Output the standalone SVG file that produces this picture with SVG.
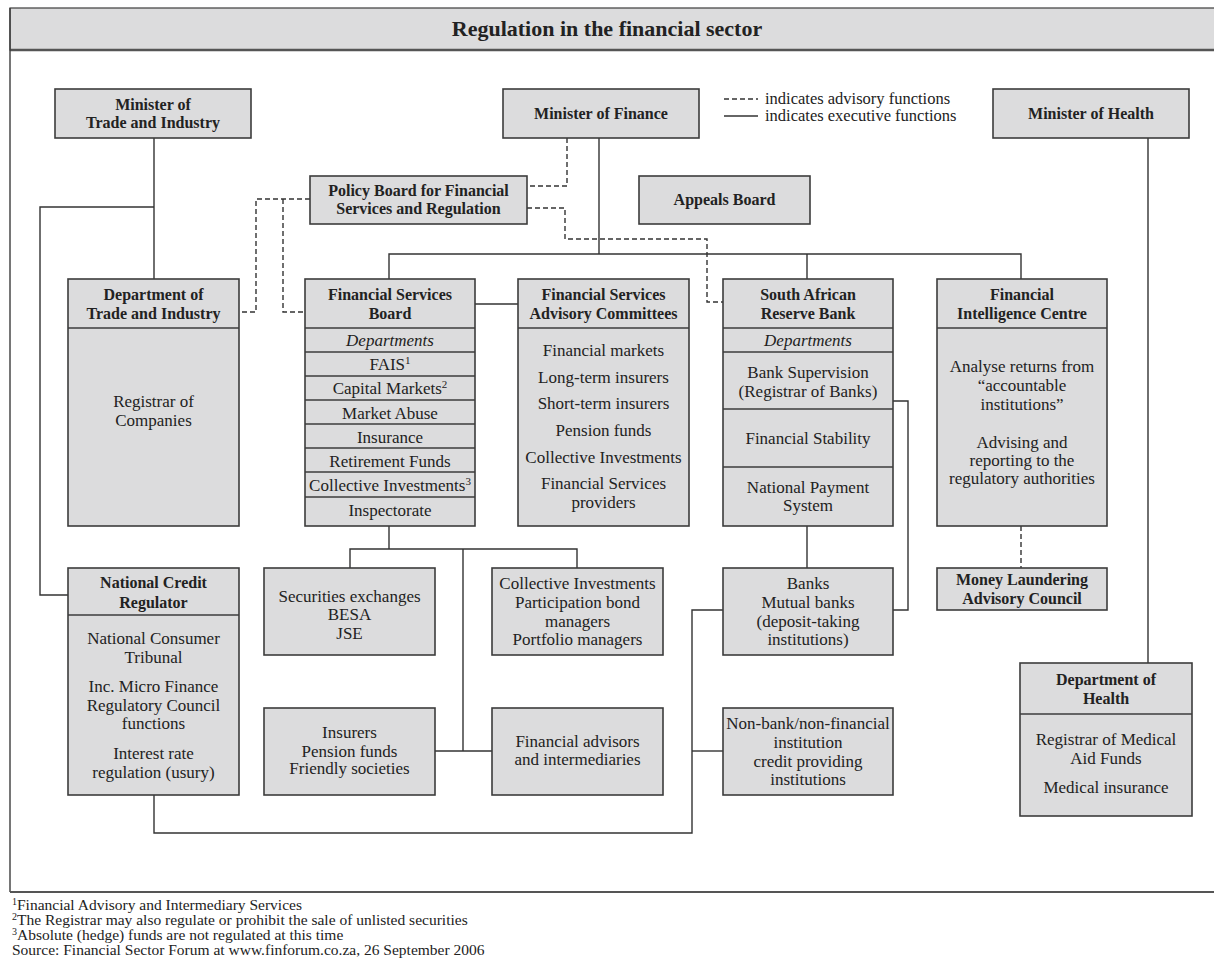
<svg xmlns="http://www.w3.org/2000/svg" width="1214" height="958" viewBox="0 0 1214 958">
<style>
.box{fill:#dcdcdd;stroke:#3c3c3c;stroke-width:1.6}
.sep{fill:none;stroke:#3c3c3c;stroke-width:1.4}
.c{fill:none;stroke:#333;stroke-width:1.4}
.d{fill:none;stroke:#333;stroke-width:1.4;stroke-dasharray:5,3}
text{font-family:"Liberation Serif","Times New Roman",serif;fill:#222}
.h{font-size:16px;font-weight:bold;text-anchor:middle}
.t{font-size:17px;text-anchor:middle}
.i{font-size:17px;font-style:italic;text-anchor:middle}
.l{font-size:16.5px}
.f{font-size:15.5px}
.title{font-size:22px;font-weight:bold;text-anchor:middle}
</style>
<rect width="1214" height="958" fill="#fff"/>
<g id="frame">
<rect x="10" y="8" width="1210" height="42" fill="#dcdcdd" stroke="#3c3c3c" stroke-width="1.2"/>
<line x1="10" y1="50" x2="1214" y2="50" stroke="#555" stroke-width="2.5"/>
<line x1="10" y1="8" x2="10" y2="892" stroke="#3c3c3c" stroke-width="1.4"/>
<line x1="10" y1="892" x2="1214" y2="892" stroke="#555" stroke-width="2"/>
<text class="title" x="607" y="36">Regulation in the financial sector</text>
</g>
<g id="legend">
<line class="d" x1="724" y1="99" x2="758" y2="99"/>
<line class="c" x1="724" y1="116" x2="758" y2="116"/>
<text class="l" x="765" y="104">indicates advisory functions</text>
<text class="l" x="765" y="121">indicates executive functions</text>
</g>
<g id="connectors">
<polyline class="c" points="154,138 154,279"/>
<polyline class="c" points="154,207 40,207 40,595 68,595"/>
<polyline class="c" points="599,138 599,254"/>
<polyline class="c" points="389,279 389,254 1021,254 1021,279"/>
<polyline class="c" points="807,254 807,279"/>
<polyline class="c" points="475,304 518,304"/>
<polyline class="c" points="893,401 908,401 908,610 893,610"/>
<polyline class="c" points="807,526 807,568"/>
<polyline class="c" points="723,610 692,610 692,833 154,833 154,795"/>
<polyline class="c" points="692,751 723,751"/>
<polyline class="c" points="389,526 389,549"/>
<polyline class="c" points="350,568 350,549 577,549 577,568"/>
<polyline class="c" points="463,549 463,751"/>
<polyline class="c" points="435,751 492,751"/>
<polyline class="c" points="1148,138 1148,663"/>
<polyline class="d" points="567,138 567,186 527,186"/>
<polyline class="d" points="527,208 565,208 565,239 707,239 707,302 723,302"/>
<polyline class="d" points="310,199 256,199 256,312 239,312"/>
<polyline class="d" points="283,199 283,312 305,312"/>
<polyline class="d" points="1021,526 1021,568"/>
</g>
<g id="minister-trade">
<rect class="box" x="55" y="89" width="196" height="49"/>
<text class="h" x="153" y="110">Minister of</text>
<text class="h" x="153" y="128">Trade and Industry</text>
</g>
<g id="minister-finance">
<rect class="box" x="503" y="89" width="196" height="49"/>
<text class="h" x="601" y="119">Minister of Finance</text>
</g>
<g id="minister-health">
<rect class="box" x="993" y="89" width="196" height="49"/>
<text class="h" x="1091" y="119">Minister of Health</text>
</g>
<g id="policy-board">
<rect class="box" x="310" y="176" width="217" height="48"/>
<text class="h" x="418.5" y="196">Policy Board for Financial</text>
<text class="h" x="418.5" y="214">Services and Regulation</text>
</g>
<g id="appeals-board">
<rect class="box" x="639" y="176" width="171" height="48"/>
<text class="h" x="724.5" y="205">Appeals Board</text>
</g>
<g id="dept-trade">
<rect class="box" x="68" y="279" width="171" height="247"/>
<line class="sep" x1="68" y1="328" x2="239" y2="328"/>
<text class="h" x="153.5" y="300">Department of</text>
<text class="h" x="153.5" y="319">Trade and Industry</text>
<text class="t" x="153.5" y="407">Registrar of</text>
<text class="t" x="153.5" y="426">Companies</text>
</g>
<g id="fsb">
<rect class="box" x="305" y="279" width="170" height="247"/>
<path class="sep" d="M305 328H475M305 352H475M305 376H475M305 400H475M305 424H475M305 448H475M305 472H475M305 497H475"/>
<text class="h" x="390" y="300">Financial Services</text>
<text class="h" x="390" y="319">Board</text>
<text class="i" x="390" y="346">Departments</text>
<text class="t" x="390" y="370">FAIS<tspan font-size="11" dy="-6">1</tspan></text>
<text class="t" x="390" y="394">Capital Markets<tspan font-size="11" dy="-6">2</tspan></text>
<text class="t" x="390" y="419">Market Abuse</text>
<text class="t" x="390" y="443">Insurance</text>
<text class="t" x="390" y="467">Retirement Funds</text>
<text class="t" x="390" y="491">Collective Investments<tspan font-size="11" dy="-6">3</tspan></text>
<text class="t" x="390" y="516">Inspectorate</text>
</g>
<g id="fsac">
<rect class="box" x="518" y="279" width="171" height="247"/>
<line class="sep" x1="518" y1="328" x2="689" y2="328"/>
<text class="h" x="603.5" y="300">Financial Services</text>
<text class="h" x="603.5" y="319">Advisory Committees</text>
<text class="t" x="603.5" y="356">Financial markets</text>
<text class="t" x="603.5" y="383">Long-term insurers</text>
<text class="t" x="603.5" y="409">Short-term insurers</text>
<text class="t" x="603.5" y="436">Pension funds</text>
<text class="t" x="603.5" y="463">Collective Investments</text>
<text class="t" x="603.5" y="489">Financial Services</text>
<text class="t" x="603.5" y="508">providers</text>
</g>
<g id="sarb">
<rect class="box" x="723" y="279" width="170" height="247"/>
<path class="sep" d="M723 328H893M723 352H893M723 409H893M723 467H893"/>
<text class="h" x="808" y="300">South African</text>
<text class="h" x="808" y="319">Reserve Bank</text>
<text class="i" x="808" y="346">Departments</text>
<text class="t" x="808" y="378">Bank Supervision</text>
<text class="t" x="808" y="397">(Registrar of Banks)</text>
<text class="t" x="808" y="444">Financial Stability</text>
<text class="t" x="808" y="493">National Payment</text>
<text class="t" x="808" y="511">System</text>
</g>
<g id="fic">
<rect class="box" x="937" y="279" width="170" height="247"/>
<line class="sep" x1="937" y1="328" x2="1107" y2="328"/>
<text class="h" x="1022" y="300">Financial</text>
<text class="h" x="1022" y="319">Intelligence Centre</text>
<text class="t" x="1022" y="372">Analyse returns from</text>
<text class="t" x="1022" y="391">“accountable</text>
<text class="t" x="1022" y="410">institutions”</text>
<text class="t" x="1022" y="448">Advising and</text>
<text class="t" x="1022" y="466">reporting to the</text>
<text class="t" x="1022" y="484">regulatory authorities</text>
</g>
<g id="mlac">
<rect class="box" x="937" y="568" width="170" height="42"/>
<text class="h" x="1022" y="585">Money Laundering</text>
<text class="h" x="1022" y="604">Advisory Council</text>
</g>
<g id="ncr">
<rect class="box" x="68" y="568" width="171" height="227"/>
<line class="sep" x1="68" y1="615" x2="239" y2="615"/>
<text class="h" x="153.5" y="588">National Credit</text>
<text class="h" x="153.5" y="608">Regulator</text>
<text class="t" x="153.5" y="644">National Consumer</text>
<text class="t" x="153.5" y="663">Tribunal</text>
<text class="t" x="153.5" y="692">Inc. Micro Finance</text>
<text class="t" x="153.5" y="711">Regulatory Council</text>
<text class="t" x="153.5" y="729">functions</text>
<text class="t" x="153.5" y="759">Interest rate</text>
<text class="t" x="153.5" y="778">regulation (usury)</text>
</g>
<g id="securities">
<rect class="box" x="264" y="568" width="171" height="87"/>
<text class="t" x="349.5" y="602">Securities exchanges</text>
<text class="t" x="349.5" y="620">BESA</text>
<text class="t" x="349.5" y="639">JSE</text>
</g>
<g id="collective">
<rect class="box" x="492" y="568" width="171" height="87"/>
<text class="t" x="577.5" y="589">Collective Investments</text>
<text class="t" x="577.5" y="608">Participation bond</text>
<text class="t" x="577.5" y="627">managers</text>
<text class="t" x="577.5" y="645">Portfolio managers</text>
</g>
<g id="banks">
<rect class="box" x="723" y="568" width="170" height="87"/>
<text class="t" x="808" y="589">Banks</text>
<text class="t" x="808" y="608">Mutual banks</text>
<text class="t" x="808" y="627">(deposit-taking</text>
<text class="t" x="808" y="645">institutions)</text>
</g>
<g id="insurers">
<rect class="box" x="264" y="708" width="171" height="87"/>
<text class="t" x="349.5" y="738">Insurers</text>
<text class="t" x="349.5" y="757">Pension funds</text>
<text class="t" x="349.5" y="774">Friendly societies</text>
</g>
<g id="advisors">
<rect class="box" x="492" y="708" width="171" height="87"/>
<text class="t" x="577.5" y="747">Financial advisors</text>
<text class="t" x="577.5" y="765">and intermediaries</text>
</g>
<g id="nonbank">
<rect class="box" x="723" y="708" width="170" height="87"/>
<text class="t" x="808" y="729">Non-bank/non-financial</text>
<text class="t" x="808" y="748">institution</text>
<text class="t" x="808" y="767">credit providing</text>
<text class="t" x="808" y="785">institutions</text>
</g>
<g id="dept-health">
<rect class="box" x="1020" y="663" width="172" height="153"/>
<line class="sep" x1="1020" y1="714" x2="1192" y2="714"/>
<text class="h" x="1106" y="685">Department of</text>
<text class="h" x="1106" y="704">Health</text>
<text class="t" x="1106" y="745">Registrar of Medical</text>
<text class="t" x="1106" y="764">Aid Funds</text>
<text class="t" x="1106" y="793">Medical insurance</text>
</g>
<g id="footnotes">
<text class="f" x="12" y="910"><tspan font-size="10" dy="-5">1</tspan><tspan dy="5">Financial Advisory and Intermediary Services</tspan></text>
<text class="f" x="12" y="925"><tspan font-size="10" dy="-5">2</tspan><tspan dy="5">The Registrar may also regulate or prohibit the sale of unlisted securities</tspan></text>
<text class="f" x="12" y="940"><tspan font-size="10" dy="-5">3</tspan><tspan dy="5">Absolute (hedge) funds are not regulated at this time</tspan></text>
<text class="f" x="12" y="955">Source: Financial Sector Forum at www.finforum.co.za, 26 September 2006</text>
</g>
</svg>
